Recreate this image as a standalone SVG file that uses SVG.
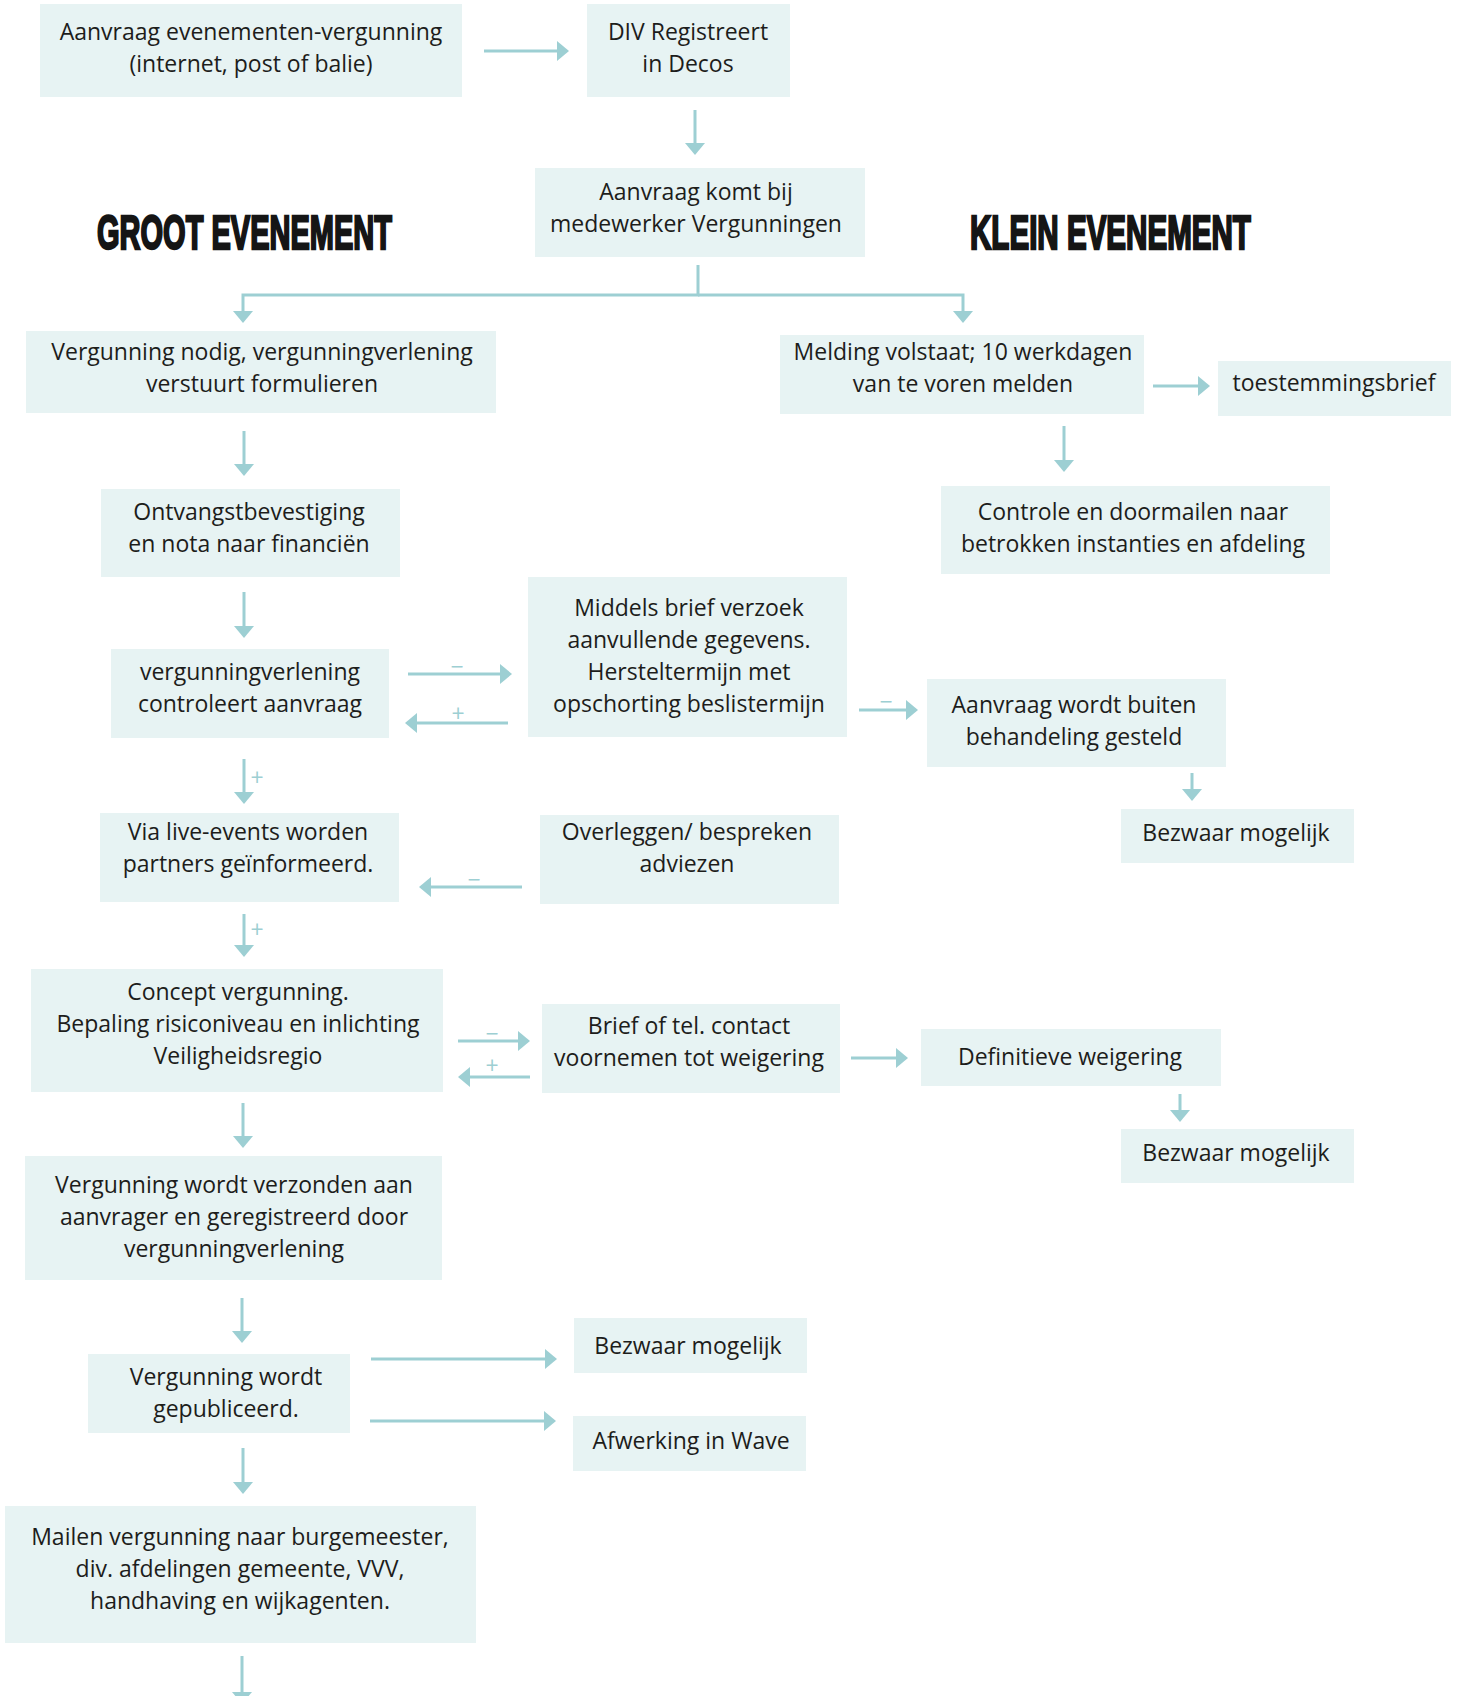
<svg xmlns="http://www.w3.org/2000/svg" width="1459" height="1696" viewBox="0 0 1459 1696">
<style>
.box{fill:#e7f3f3;}
.t{font-family:"Open Sans","Noto Sans",sans-serif;font-size:23px;fill:#1d1d1b;text-anchor:middle;}
.h{font-family:"Liberation Sans","DejaVu Sans",sans-serif;font-weight:bold;font-size:48px;fill:#151515;stroke:#151515;stroke-width:2.4px;}
.c{fill:none;stroke:#9dcfd3;stroke-width:3;}
.s{font-family:"Open Sans","Noto Sans",sans-serif;font-size:23px;fill:#9dcfd3;text-anchor:middle;}
</style>
<defs>
<marker id="ah" markerUnits="userSpaceOnUse" markerWidth="12" markerHeight="20" refX="0" refY="10" orient="auto" overflow="visible">
<path d="M0,0 L12,10 L0,20 Z" fill="#9dcfd3"/>
</marker>
</defs>
<rect width="1459" height="1696" fill="#ffffff"/>
<text class="h" transform="translate(97,249) scale(0.6045,1)" x="0" y="0" textLength="488" lengthAdjust="spacingAndGlyphs">GROOT EVENEMENT</text>
<text class="h" transform="translate(970,249) scale(0.616,1)" x="0" y="0" textLength="456" lengthAdjust="spacingAndGlyphs">KLEIN EVENEMENT</text>
<g id="connectors">
<path class="c" marker-end="url(#ah)" d="M484,51 H557"/>
<path class="c" marker-end="url(#ah)" d="M695,110 V143"/>
<path class="c" marker-end="url(#ah)" d="M698,265 V295 H243 V311"/>
<path class="c" marker-end="url(#ah)" d="M698,295 H963 V311"/>
<path class="c" marker-end="url(#ah)" d="M244,431 V464"/>
<path class="c" marker-end="url(#ah)" d="M1153,386 H1198"/>
<path class="c" marker-end="url(#ah)" d="M1064,426 V460"/>
<path class="c" marker-end="url(#ah)" d="M244,592 V626"/>
<path class="c" marker-end="url(#ah)" d="M408,674 H500"/>
<path class="c" marker-end="url(#ah)" d="M508,723 H417"/>
<path class="c" marker-end="url(#ah)" d="M859,710 H906"/>
<path class="c" marker-end="url(#ah)" d="M1192,773 V789"/>
<path class="c" marker-end="url(#ah)" d="M244,759 V792"/>
<path class="c" marker-end="url(#ah)" d="M522,887 H431"/>
<path class="c" marker-end="url(#ah)" d="M244,914 V945"/>
<path class="c" marker-end="url(#ah)" d="M458,1041 H518"/>
<path class="c" marker-end="url(#ah)" d="M530,1077 H470"/>
<path class="c" marker-end="url(#ah)" d="M851,1058 H896"/>
<path class="c" marker-end="url(#ah)" d="M1180,1094 V1110"/>
<path class="c" marker-end="url(#ah)" d="M243,1103 V1136"/>
<path class="c" marker-end="url(#ah)" d="M242,1298 V1331"/>
<path class="c" marker-end="url(#ah)" d="M371,1359 H545"/>
<path class="c" marker-end="url(#ah)" d="M370,1421 H544"/>
<path class="c" marker-end="url(#ah)" d="M243,1448 V1482"/>
<path class="c" marker-end="url(#ah)" d="M242,1656 V1692"/>
<text class="s" x="457" y="675">−</text>
<text class="s" x="458" y="722">+</text>
<text class="s" x="886" y="710">−</text>
<text class="s" x="257" y="786">+</text>
<text class="s" x="474" y="888">−</text>
<text class="s" x="257" y="938">+</text>
<text class="s" x="492" y="1042">−</text>
<text class="s" x="492" y="1074">+</text>
</g>
<g id="n-aanvraag"><rect class="box" x="40" y="4" width="422" height="93"/><text class="t" x="251" y="40">Aanvraag evenementen-vergunning</text><text class="t" x="251" y="72">(internet, post of balie)</text></g>
<g id="n-div"><rect class="box" x="587" y="4" width="203" height="93"/><text class="t" x="688" y="40">DIV Registreert</text><text class="t" x="688" y="72">in Decos</text></g>
<g id="n-komt"><rect class="box" x="535" y="168" width="330" height="89"/><text class="t" x="696" y="200">Aanvraag komt bij</text><text class="t" x="696" y="232">medewerker Vergunningen</text></g>
<g id="n-nodig"><rect class="box" x="26" y="331" width="470" height="82"/><text class="t" x="262" y="360">Vergunning nodig, vergunningverlening</text><text class="t" x="262" y="392">verstuurt formulieren</text></g>
<g id="n-melding"><rect class="box" x="780" y="335" width="364" height="79"/><text class="t" x="963" y="360">Melding volstaat; 10 werkdagen</text><text class="t" x="963" y="392">van te voren melden</text></g>
<g id="n-toestemming"><rect class="box" x="1218" y="361" width="233" height="55"/><text class="t" x="1334" y="391">toestemmingsbrief</text></g>
<g id="n-controle"><rect class="box" x="941" y="486" width="389" height="88"/><text class="t" x="1133" y="520">Controle en doormailen naar</text><text class="t" x="1133" y="552">betrokken instanties en afdeling</text></g>
<g id="n-ontvangst"><rect class="box" x="101" y="489" width="299" height="88"/><text class="t" x="249" y="520">Ontvangstbevestiging</text><text class="t" x="249" y="552">en nota naar financiën</text></g>
<g id="n-controleert"><rect class="box" x="111" y="649" width="278" height="89"/><text class="t" x="250" y="680">vergunningverlening</text><text class="t" x="250" y="712">controleert aanvraag</text></g>
<g id="n-middels"><rect class="box" x="528" y="577" width="319" height="160"/><text class="t" x="689" y="616">Middels brief verzoek</text><text class="t" x="689" y="648">aanvullende gegevens.</text><text class="t" x="689" y="680">Hersteltermijn met</text><text class="t" x="689" y="712">opschorting beslistermijn</text></g>
<g id="n-buiten"><rect class="box" x="927" y="679" width="299" height="88"/><text class="t" x="1074" y="713">Aanvraag wordt buiten</text><text class="t" x="1074" y="745">behandeling gesteld</text></g>
<g id="n-bezwaar1"><rect class="box" x="1121" y="809" width="233" height="54"/><text class="t" x="1236" y="841">Bezwaar mogelijk</text></g>
<g id="n-live"><rect class="box" x="100" y="813" width="299" height="89"/><text class="t" x="248" y="840">Via live-events worden</text><text class="t" x="248" y="872">partners geïnformeerd.</text></g>
<g id="n-overleggen"><rect class="box" x="540" y="815" width="299" height="89"/><text class="t" x="687" y="840">Overleggen/ bespreken</text><text class="t" x="687" y="872">adviezen</text></g>
<g id="n-concept"><rect class="box" x="31" y="969" width="412" height="123"/><text class="t" x="238" y="1000">Concept vergunning.</text><text class="t" x="238" y="1032">Bepaling risiconiveau en inlichting</text><text class="t" x="238" y="1064">Veiligheidsregio</text></g>
<g id="n-brief"><rect class="box" x="542" y="1004" width="298" height="89"/><text class="t" x="689" y="1034">Brief of tel. contact</text><text class="t" x="689" y="1066">voornemen tot weigering</text></g>
<g id="n-definitief"><rect class="box" x="921" y="1029" width="300" height="57"/><text class="t" x="1070" y="1065">Definitieve weigering</text></g>
<g id="n-bezwaar2"><rect class="box" x="1121" y="1129" width="233" height="54"/><text class="t" x="1236" y="1161">Bezwaar mogelijk</text></g>
<g id="n-verzonden"><rect class="box" x="25" y="1156" width="417" height="124"/><text class="t" x="234" y="1193">Vergunning wordt verzonden aan</text><text class="t" x="234" y="1225">aanvrager en geregistreerd door</text><text class="t" x="234" y="1257">vergunningverlening</text></g>
<g id="n-gepubliceerd"><rect class="box" x="88" y="1354" width="262" height="79"/><text class="t" x="226" y="1385">Vergunning wordt</text><text class="t" x="226" y="1417">gepubliceerd.</text></g>
<g id="n-bezwaar3"><rect class="box" x="574" y="1318" width="233" height="55"/><text class="t" x="688" y="1354">Bezwaar mogelijk</text></g>
<g id="n-wave"><rect class="box" x="573" y="1416" width="233" height="55"/><text class="t" x="691" y="1449">Afwerking in Wave</text></g>
<g id="n-mailen"><rect class="box" x="5" y="1506" width="471" height="137"/><text class="t" x="240" y="1545">Mailen vergunning naar burgemeester,</text><text class="t" x="240" y="1577">div. afdelingen gemeente, VVV,</text><text class="t" x="240" y="1609">handhaving en wijkagenten.</text></g>
</svg>
